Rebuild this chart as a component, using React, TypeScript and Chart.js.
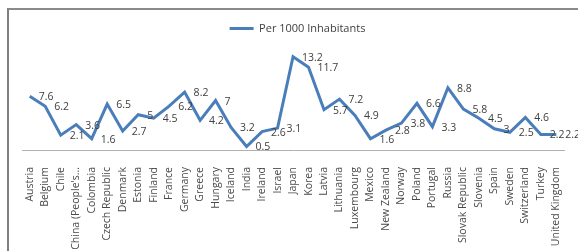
import React, { useEffect, useRef } from "react";
import { Chart, registerables } from "chart.js";

Chart.register(...registerables);

const categories: string[] = [
  "Austria", "Belgium", "Chile", "China (People's…", "Colombia", "Czech Republic",
  "Denmark", "Estonia", "Finland", "France", "Germany", "Greece", "Hungary",
  "Iceland", "India", "Ireland", "Israel", "Japan", "Korea", "Latvia",
  "Lithuania", "Luxembourg", "Mexico", "New Zealand", "Norway", "Poland",
  "Portugal", "Russia", "Slovak Republic", "Slovenia", "Spain", "Sweden",
  "Switzerland", "Turkey", "United Kingdom",
];

const perThousand: number[] = [
  7.6, 6.2, 2.1, 3.6, 1.6, 6.5, 2.7, 5, 4.5, 6.2, 8.2, 4.2, 7, 3.2, 0.5, 2.6,
  3.1, 13.2, 11.7, 5.7, 7.2, 4.9, 1.6, 2.8, 3.8, 6.6, 3.3, 8.8, 5.8, 4.5, 3,
  2.5, 4.6, 2.2, 2.2,
];

const seriesName = "Per 1000 Inhabitants";
const FONT = "'Open Sans', 'Liberation Sans', sans-serif";

const dataLabels = {
  id: "dataLabels",
  afterDatasetsDraw(chart: any) {
    const ctx = chart.ctx;
    const meta = chart.getDatasetMeta(0);
    const values = chart.data.datasets[0].data as number[];
    ctx.save();
    ctx.font = `10.5px ${FONT}`;
    ctx.fillStyle = "#404040";
    ctx.textAlign = "left";
    ctx.textBaseline = "middle";
    meta.data.forEach((pt: any, i: number) => {
      ctx.fillText(String(values[i]), pt.x + 9, pt.y + 1);
    });
    ctx.restore();
  },
};

export default function App() {
  const ref = useRef<HTMLCanvasElement | null>(null);

  useEffect(() => {
    if (!ref.current) return;
    const chart = new Chart(ref.current, {
      type: "line",
      data: {
        labels: categories,
        datasets: [
          {
            label: seriesName,
            data: perThousand,
            borderColor: "#4A7EBB",
            backgroundColor: "#4A7EBB",
            borderWidth: 3,
            pointRadius: 0,
            tension: 0,
            fill: false,
          },
        ],
      },
      options: {
        responsive: false,
        animation: false,
        layout: { padding: { left: 22, right: 5, top: 12, bottom: 0 } },
        plugins: {
          legend: {
            display: true,
            position: "top",
            labels: {
              usePointStyle: true,
              pointStyle: "line",
              pointStyleWidth: 24,
              boxHeight: 3,
              padding: 11,
              color: "#404040",
              font: { family: FONT, size: 11 },
            },
          },
          tooltip: { enabled: false },
        },
        scales: {
          x: {
            type: "category",
            offset: true,
            grid: { display: false },
            border: { display: true, color: "#b0b0b0", width: 1 },
            ticks: {
              minRotation: 90,
              maxRotation: 90,
              autoSkip: false,
              padding: 9,
              color: "#4a4a4a",
              font: { family: FONT, size: 10.5 },
            },
            afterFit: (scale: any) => {
              scale.height = 101;
            },
          },
          y: { display: false, min: 0, max: 15 },
        },
      },
      plugins: [dataLabels],
    });
    return () => chart.destroy();
  }, []);

  return (
    <div style={{ position: "absolute", left: 0, top: 0, width: 578, height: 251, background: "#fff", overflow: "hidden" }}>
      <div
        style={{
          position: "absolute",
          left: 7,
          top: 8,
          width: 600,
          height: 300,
          borderLeft: "2px solid #7f7f7f",
          borderTop: "2px solid #8a8a8a",
          boxSizing: "border-box",
        }}
      />
      <canvas ref={ref} width={578} height={251} style={{ position: "absolute", left: 0, top: 0 }} />
    </div>
  );
}
